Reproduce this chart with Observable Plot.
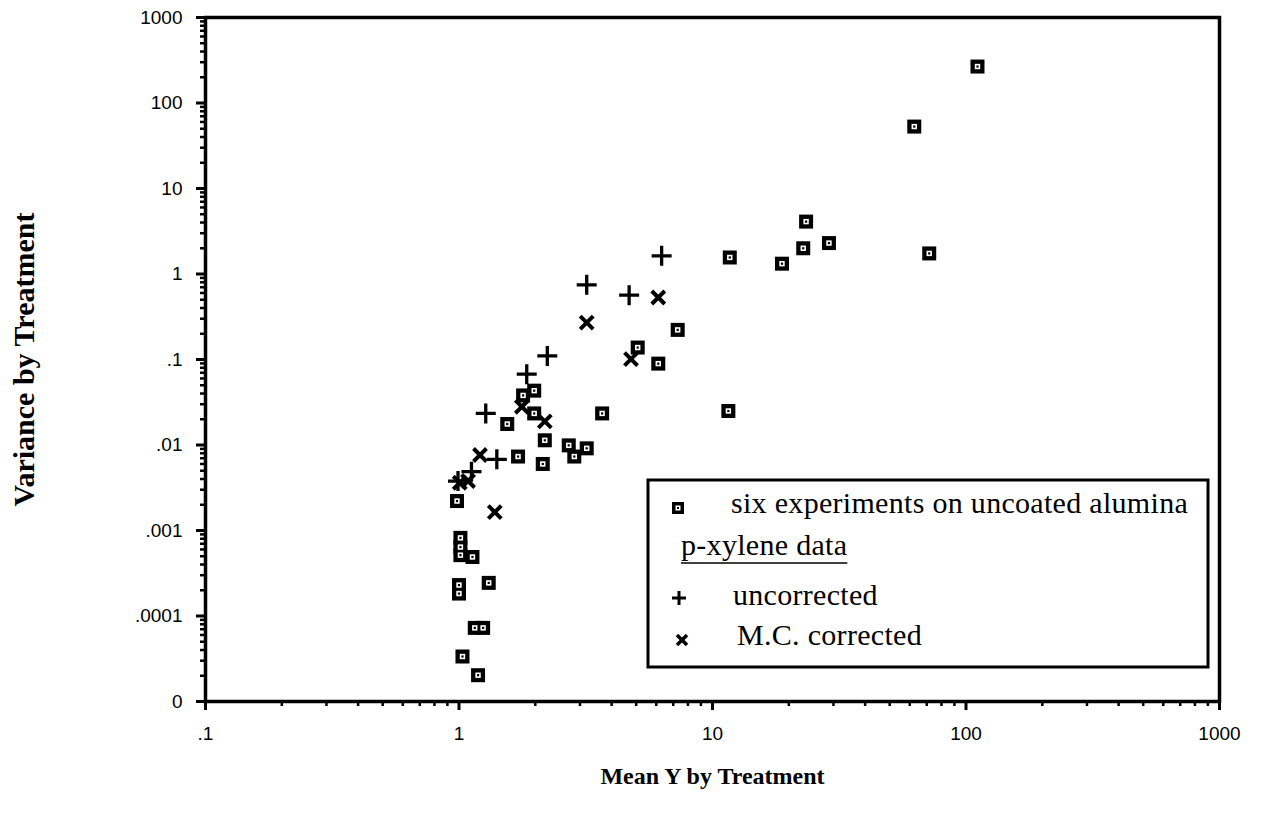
<!DOCTYPE html>
<html><head><meta charset="utf-8">
<script src="https://cdn.jsdelivr.net/npm/d3@7"></script>
<script src="https://cdn.jsdelivr.net/npm/@observablehq/plot@0.6"></script>
<style>
body{margin:0;background:#fff;}
#wrap{position:relative;width:1269px;height:824px;background:#fff;}
#legend{position:absolute;left:0;top:0;pointer-events:none;}
</style></head><body><div id="wrap"></div>
<script>
// ---- data ----
const squareX = [111, 62.5, 23.4, 28.8, 22.8, 18.8, 71.6, 11.7, 7.29, 5.07, 6.11, 11.55, 1.98, 1.79, 1.98, 1.55, 3.67, 2.18, 2.71, 3.19, 2.85, 1.71, 2.14, 0.982, 1.013, 1.013, 1.013, 1.13, 1.0, 1.0, 1.31, 1.154, 1.245, 1.032, 1.189];
const squareY = [267, 53, 4.1, 2.3, 2.0, 1.32, 1.74, 1.56, 0.222, 0.138, 0.0895, 0.025, 0.0432, 0.038, 0.0234, 0.0176, 0.0234, 0.01135, 0.0099, 0.00914, 0.00733, 0.00733, 0.0060, 0.00221, 0.00082, 0.00064, 0.000515, 0.00049, 0.00023, 0.000183, 0.000244, 0.0000726, 0.0000726, 0.0000336, 0.0000203];
const plusX = [6.3, 3.19, 4.69, 2.23, 1.85, 1.275, 1.41, 1.12, 0.991];
const plusY = [1.63, 0.748, 0.566, 0.110, 0.0673, 0.0234, 0.0068, 0.00487, 0.00379];
const crossX = [6.11, 3.19, 4.77, 1.77, 2.18, 1.21, 1.086, 1.007, 1.384];
const crossY = [0.531, 0.270, 0.101, 0.028, 0.0189, 0.00764, 0.00379, 0.00362, 0.00164];
const xTicks = [0.1, 1, 10, 100, 1000];
const xTickLabels = [".1", "1", "10", "100", "1000"];
const yTicks = [1e-5, 1e-4, 1e-3, 1e-2, 1e-1, 1, 10, 100, 1000];
const yTickLabels = ["0", ".0001", ".001", ".01", ".1", "1", "10", "100", "1000"];
const legendLabels = ["six experiments on uncoated alumina", "p-xylene data", "uncorrected", "M.C. corrected"];
const xTitle = "Mean Y by Treatment";
const yTitle = "Variance by Treatment";

// ---- tables ----
const squares = squareX.map((x, i) => ({x, y: squareY[i]}));
const pluses = plusX.map((x, i) => ({x, y: plusY[i]}));
const crosses = crossX.map((x, i) => ({x, y: crossY[i]}));
const minors = (ticks) => ticks.slice(0, -1).flatMap(t => d3.range(2, 10).map(k => t * k));
const xMinor = minors(xTicks);
const yMinor = minors(yTicks);

// ---- symbols ----
const rad = s => Math.sqrt(s / Math.PI);
const sqSym = {draw(c, s){const r = rad(s); c.moveTo(-r,-r); c.lineTo(r,-r); c.lineTo(r,r); c.lineTo(-r,r); c.closePath();}};
const plusSym = {draw(c, s){const r = rad(s); c.moveTo(-r,0); c.lineTo(r,0); c.moveTo(0,-r); c.lineTo(0,r);}};
const crossSym = {draw(c, s){const r = rad(s); c.moveTo(-r,-r); c.lineTo(r,r); c.moveTo(r,-r); c.lineTo(-r,r);}};

const serif = "'Liberation Serif', 'Times New Roman', serif";

const chart = Plot.plot({
  width: 1269, height: 824,
  marginLeft: 205, marginRight: 50, marginTop: 17, marginBottom: 123,
  style: {fontFamily: "'Liberation Sans', Arial, sans-serif", fontSize: "19px", background: "white", color: "black"},
  x: {type: "log", domain: [0.1, 1000]},
  y: {type: "log", domain: [1e-5, 1000]},
  marks: [
    Plot.axisX({ticks: xMinor, tickSize: 5, tickFormat: () => "", strokeWidth: 2.5, label: null}),
    Plot.axisY({ticks: yMinor, tickSize: 5, tickFormat: () => "", strokeWidth: 2.5, label: null}),
    Plot.axisX({ticks: xTicks, tickSize: 9, tickPadding: 16, strokeWidth: 3, label: null,
      tickFormat: d => xTickLabels[xTicks.indexOf(d)]}),
    Plot.axisY({ticks: yTicks, tickSize: 9, tickPadding: 14, strokeWidth: 3, label: null,
      tickFormat: d => yTickLabels[yTicks.indexOf(d)]}),
    Plot.frame({stroke: "black", strokeWidth: 3.5}),
    Plot.dot(squares, {x: "x", y: "y", r: 7, symbol: sqSym, fill: "black", stroke: "none"}),
    Plot.dot(squares, {x: "x", y: "y", r: 2.7, symbol: sqSym, fill: "white", stroke: "none"}),
    Plot.dot(squares, {x: "x", y: "y", r: 1.1, symbol: sqSym, fill: "black", stroke: "none"}),
    Plot.dot(pluses, {x: "x", y: "y", r: 10, symbol: plusSym, fill: "none", stroke: "black", strokeWidth: 3.3}),
    Plot.dot(crosses, {x: "x", y: "y", r: 6.5, symbol: crossSym, fill: "none", stroke: "black", strokeWidth: 4}),
    Plot.text([yTitle], {text: d => d, frameAnchor: "left", dx: -181, rotate: -90, textAnchor: "middle", lineAnchor: "middle",
      fontSize: 30, fontWeight: "bold", fontFamily: serif}),
    Plot.text([xTitle], {text: d => d, frameAnchor: "bottom", dy: 75, textAnchor: "middle", lineAnchor: "middle",
      fontSize: 24, fontWeight: "bold", fontFamily: serif})
  ]
});
document.getElementById("wrap").appendChild(chart);

// ---- legend overlay (inside the plot frame, lower right) ----
const lg = d3.select("#wrap").append("svg").attr("id", "legend").attr("width", 1269).attr("height", 824);
lg.append("rect").attr("x", 648).attr("y", 480).attr("width", 560).attr("height", 187)
  .attr("fill", "white").attr("stroke", "black").attr("stroke-width", 3);
// square marker
lg.append("rect").attr("x", 672).attr("y", 502).attr("width", 12).attr("height", 12).attr("fill", "black");
lg.append("rect").attr("x", 675.5).attr("y", 505.5).attr("width", 5).attr("height", 5).attr("fill", "white");
lg.append("rect").attr("x", 677).attr("y", 507).attr("width", 2).attr("height", 2).attr("fill", "black");
// plus marker
lg.append("path").attr("d", "M672,598H686M679,591V605").attr("stroke", "black").attr("stroke-width", 3).attr("fill", "none");
// cross marker
lg.append("path").attr("d", "M677,635L687,645M687,635L677,645").attr("stroke", "black").attr("stroke-width", 3.5).attr("fill", "none");
const lt = (x, y, s) => lg.append("text").attr("x", x).attr("y", y).attr("font-family", serif)
  .attr("font-size", 30).attr("letter-spacing", "0.3px").attr("fill", "black").text(s);
lt(731, 513, legendLabels[0]);
const sub = lt(681, 555, legendLabels[1]);
const w = sub.node().getComputedTextLength();
lg.append("line").attr("x1", 681).attr("x2", 681 + w).attr("y1", 563).attr("y2", 563).attr("stroke", "black").attr("stroke-width", 1.5);
lt(733, 605, legendLabels[2]);
lt(737, 645, legendLabels[3]);
</script></body></html>
